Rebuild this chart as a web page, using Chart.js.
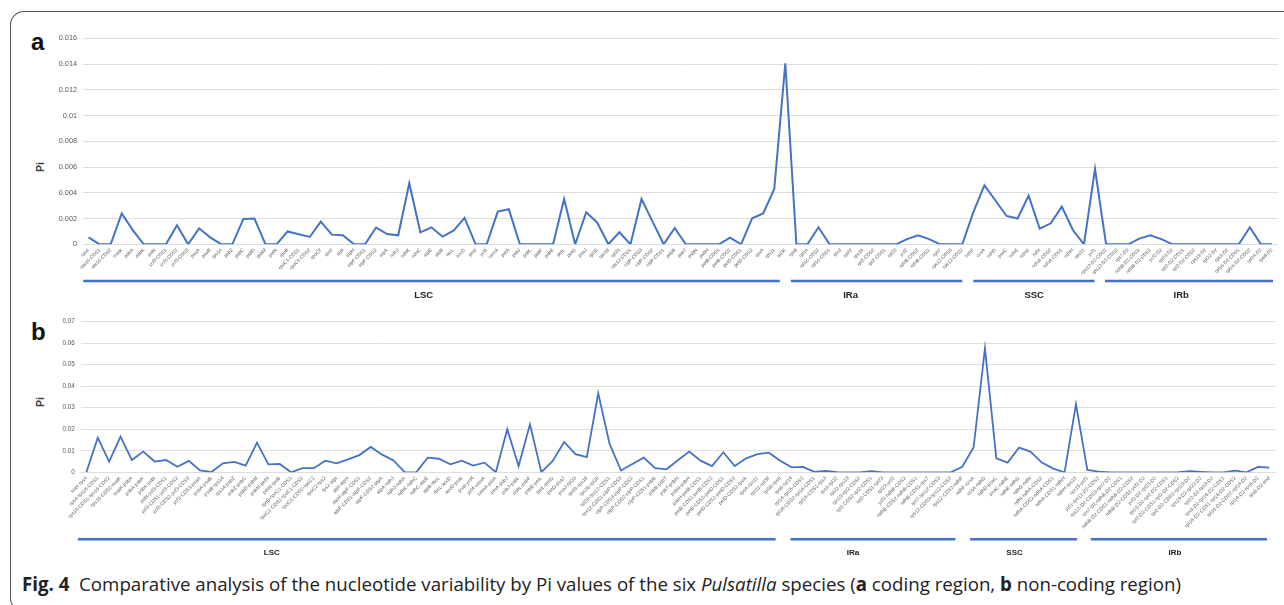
<!DOCTYPE html>
<html>
<head>
<meta charset="utf-8">
<script src="https://cdn.jsdelivr.net/npm/chart.js@4.4.1/dist/chart.umd.min.js"></script>
<style>
  html, body { margin: 0; padding: 0; background: #fff; }
  body { width: 1284px; height: 605px; position: relative; overflow: hidden; }
  .frame {
    position: absolute; left: 10px; top: 11px; width: 1320px; height: 598px;
    border: 1.5px solid #555; border-right: none;
    border-top-left-radius: 14px; border-bottom-left-radius: 10px;
    box-sizing: border-box;
  }
  canvas { position: absolute; left: 0; }
  #chartA { top: 0; }
  #chartB { top: 300px; }
  .panel {
    position: absolute; font-family: 'Liberation Sans', Arial, sans-serif;
    font-weight: bold; font-size: 24px; line-height: 24px; color: #111;
  }
  .pi {
    position: absolute; width: 30px; height: 12px; margin: -6px 0 0 -15px;
    transform: rotate(-90deg); text-align: center;
    font-family: 'Liberation Sans', Arial, sans-serif; font-weight: bold;
    font-size: 10.5px; line-height: 12px; color: #404040;
  }
  .caption {
    position: absolute; left: 22px; top: 573px; white-space: nowrap;
    font-family: 'Open Sans', sans-serif; font-size: 18.7px; line-height: 22px; color: #222;
  }
</style>
</head>
<body>
<div class="frame"></div>
<div class="panel" style="left:31px; top:30px;">a</div>
<div class="panel" style="left:31px; top:320px;">b</div>
<div class="pi" style="left:40px; top:167px;">Pi</div>
<div class="pi" style="left:40px; top:402px;">Pi</div>
<canvas id="chartA" width="1284" height="300"></canvas>
<canvas id="chartB" width="1284" height="265"></canvas>
<div class="caption"><b>Fig. 4</b>&nbsp; Comparative analysis of the nucleotide variability by Pi values of the six <i>Pulsatilla</i> species (<b>a</b> coding region, <b>b</b> non-coding region)</div>

<script>
/* ===================================================
   FIG. 4 – Pi values, coding / non-coding regions
   =================================================== */

// ── DATA: panel a (coding region) ─────────────────
const genesA = [
  'rps4', 'rps16-CDS1', 'rps16-CDS2', 'matK', 'psbA', 'psbK', 'psbI', 'ycf3-CDS1', 'ycf3-CDS2', 'ycf3-CDS3',
  'psaA', 'psaB', 'rps14', 'psbZ', 'psbC', 'psbD', 'psbM', 'petN', 'rpoB', 'rpoC1-CDS1',
  'rpoC1-CDS2', 'rpoC2', 'rps2', 'atpI', 'atpH', 'atpF-CDS1', 'atpF-CDS2', 'atpA', 'ndhJ', 'ndhK',
  'ndhC', 'atpE', 'atpB', 'rbcL', 'accD', 'psaI', 'ycf4', 'cemA', 'petA', 'psbJ',
  'psbL', 'psbF', 'psbE', 'petL', 'petG', 'psaJ', 'rpl33', 'rps18', 'rpl20', 'rps12-CDS1',
  'clpP-CDS3', 'clpP-CDS2', 'clpP-CDS1', 'psbB', 'psbT', 'psbN', 'psbH', 'petB-CDS1', 'petB-CDS2', 'petD-CDS1',
  'petD-CDS2', 'rpoA', 'rps11', 'rpl36', 'rps8', 'rpl14', 'rpl16-CDS2', 'rpl16-CDS1', 'rps3', 'rpl22',
  'rps19', 'rpl2-CDS2', 'rpl2-CDS1', 'rpl23', 'ycf2', 'ndhB-CDS2', 'ndhB-CDS1', 'rps7', 'rps12-CDS3', 'rps12-CDS2',
  'ndhF', 'ccsA', 'ndhD', 'psaC', 'ndhE', 'ndhG', 'ndhI', 'ndhA-CDS2', 'ndhA-CDS1', 'ndhH',
  'rps15', 'ycf1', 'rps12-D2-CDS2', 'rps12-D2-CDS3', 'rps7-D2', 'ndhB-D2-CDS1', 'ndhB-D2-CDS2', 'ycf2-D2', 'rpl23-D2', 'rpl2-D2-CDS1',
  'rpl2-D2-CDS2', 'rps19-D2', 'rpl22-D2', 'rps3-D2', 'rpl16-D2-CDS1', 'rpl16-D2-CDS2', 'rpl14-D2', 'rps8-D2',
];

const piA = [
  0.00054, 0, 0, 0.0024, 0.0011, 0, 0, 0, 0.00148, 0,
  0.00124, 0.00054, 0, 0, 0.00197, 0.0020, 0, 0, 0.0010, 0.00078,
  0.00057, 0.00176, 0.00075, 0.0007, 0, 0, 0.0013, 0.0008, 0.0007, 0.00474,
  0.00093, 0.00132, 0.0006, 0.00106, 0.00205, 0, 0, 0.00254, 0.00272, 0,
  0, 0, 0, 0.00352, 0, 0.00249, 0.00168, 0, 0.00093, 0,
  0.00352, 0.00176, 0, 0.00127, 0, 0, 0, 0, 0.00052, 0,
  0.00202, 0.0024, 0.0043, 0.01406, 0, 0, 0.00132, 0, 0, 0,
  0, 0, 0, 0, 0.0004, 0.0007, 0.0004, 0, 0, 0,
  0.0025, 0.00458, 0.0034, 0.0022, 0.0020, 0.00378, 0.00122, 0.00163, 0.00293, 0.00111,
  0, 0.00585, 0, 0, 0, 0.00044, 0.0007, 0.0004, 0, 0,
  0, 0, 0, 0, 0, 0.00132, 0, 0,
];

// ── DATA: panel b (non-coding region) ─────────────
const spacersB = [
  'start-rps4', 'rps4-rps16-CDS1', 'rps16-CDS1-rps16-CDS2', 'rps16-CDS2-matK', 'matK-psbA',
  'psbA-psbK', 'psbK-psbI', 'psbI-ycf3-CDS1', 'ycf3-CDS1-ycf3-CDS2', 'ycf3-CDS2-ycf3-CDS3',
  'ycf3-CDS3-psaA', 'psaA-psaB', 'psaB-rps14', 'rps14-psbZ', 'psbZ-psbC',
  'psbD-psbM', 'psbM-petN', 'petN-rpoB', 'rpoB-rpoC1-CDS1', 'rpoC1-CDS1-rpoC1-CDS2',
  'rpoC1-CDS2-rpoC2', 'rpoC2-rps2', 'rps2-atpI', 'atpI-atpH', 'atpH-atpF-CDS1',
  'atpF-CDS1-atpF-CDS2', 'atpF-CDS2-atpA', 'atpA-ndhJ', 'ndhJ-ndhK', 'ndhK-ndhC',
  'ndhC-atpE', 'atpB-rbcL', 'rbcL-accD', 'accD-psaI', 'psaI-ycf4',
  'ycf4-cemA', 'cemA-petA', 'petA-psbJ', 'psbJ-psbL', 'psbL-psbF',
  'psbE-petL', 'petL-petG', 'petG-psaJ', 'psaJ-rpl33', 'rpl33-rps18',
  'rps18-rpl20', 'rpl20-rps12-CDS1', 'rps12-CDS1-clpP-CDS3', 'clpP-CDS3-clpP-CDS2', 'clpP-CDS2-clpP-CDS1',
  'clpP-CDS1-psbB', 'psbB-psbT', 'psbT-psbN', 'psbN-psbH', 'psbH-petB-CDS1',
  'petB-CDS1-petB-CDS2', 'petB-CDS2-petD-CDS1', 'petD-CDS1-petD-CDS2', 'petD-CDS2-rpoA', 'rpoA-rps11',
  'rps11-rpl36', 'rpl36-rps8', 'rps8-rpl14', 'rpl14-rpl16-CDS2', 'rpl16-CDS2-rpl16-CDS1',
  'rpl16-CDS1-rps3', 'rps3-rpl22', 'rpl22-rps19', 'rps19-rpl2-CDS2', 'rpl2-CDS2-rpl2-CDS1',
  'rpl2-CDS1-rpl23', 'rpl23-ycf2', 'ycf2-ndhB-CDS2', 'ndhB-CDS2-ndhB-CDS1', 'ndhB-CDS1-rps7',
  'rps7-rps12-CDS3', 'rps12-CDS3-rps12-CDS2', 'rps12-CDS2-ndhF', 'ndhF-ccsA', 'ccsA-ndhD',
  'ndhD-psaC', 'psaC-ndhE', 'ndhE-ndhG', 'ndhG-ndhI', 'ndhI-ndhA-CDS2',
  'ndhA-CDS2-ndhA-CDS1', 'ndhA-CDS1-ndhH', 'ndhH-rps15', 'rps15-ycf1', 'ycf1-rps12-D2-CDS2',
  'rps12-D2-CDS3-rps7-D2', 'rps7-D2-ndhB-D2-CDS1', 'ndhB-D2-CDS1-ndhB-D2-CDS2', 'ndhB-D2-CDS2-ycf2-D2', 'ycf2-D2-rpl23-D2',
  'rpl23-D2-rpl2-D2-CDS1', 'rpl2-D2-CDS1-rpl2-D2-CDS2', 'rpl2-D2-CDS2-rps19-D2', 'rps19-D2-rpl22-D2', 'rpl22-D2-rps3-D2',
  'rps3-D2-rpl16-D2-CDS1', 'rpl16-D2-CDS1-rpl16-D2-CDS2', 'rpl16-D2-CDS2-rpl14-D2', 'rpl14-D2-rps8-D2', 'rps8-D2-end',
];

const piB = [
  0, 0.0161, 0.0050, 0.0166, 0.0057, 0.0096, 0.0050, 0.0057, 0.0026, 0.0053,
  0.0009, 0.0001, 0.0042, 0.0048, 0.0031, 0.0138, 0.0037, 0.0039, 0, 0.0019,
  0.0019, 0.0054, 0.0042, 0.0060, 0.0080, 0.0118, 0.0082, 0.0055, 0, 0,
  0.0068, 0.0063, 0.0037, 0.0054, 0.0031, 0.0045, 0, 0.0200, 0.0029, 0.0223,
  0.0001, 0.0053, 0.0141, 0.0084, 0.0071, 0.0367, 0.0132, 0.0008, 0.0039, 0.0068,
  0.0019, 0.0014, 0.0056, 0.0096, 0.0054, 0.0029, 0.0093, 0.0029, 0.0065, 0.0084,
  0.0091, 0.0054, 0.0023, 0.0025, 0.0002, 0.0006, 0.0001, 0, 0, 0.0005,
  0, 0, 0, 0, 0, 0, 0, 0.0026, 0.0115, 0.0576,
  0.0065, 0.0045, 0.0115, 0.0096, 0.0045, 0.0017, 0, 0.0317, 0.0011, 0.0003,
  0, 0, 0, 0, 0, 0, 0.0001, 0.0005, 0.0002, 0,
  0, 0.0008, 0, 0.0025, 0.0022,
];

// ── DATA: genome regions (category index spans) ───
const regionNames = ['LSC', 'IRa', 'SSC', 'IRb'];
const regionStartA = [-0.48, 63.5, 80.0, 91.9];
const regionEndA   = [62.5, 79.0, 90.96, 107.1];
const regionLabelA = [30.3, 68.9, 85.5, 98.8];
const regionStartB = [-0.75, 61.9, 77.7, 88.3];
const regionEndB   = [60.6, 76.4, 87.1, 103.8];
const regionLabelB = [16.3, 67.4, 81.6, 95.7];

// ── STYLE ─────────────────────────────────────────
const BLUE = '#4472C4';
const GRID = '#dddddd';
const TICK = '#595959';
const FONT = "'Liberation Sans', Arial, sans-serif";

Chart.defaults.font.family = FONT;
Chart.defaults.animation = false;

// ── REGION BARS PLUGIN ────────────────────────────
const regionPlugin = {
  id: 'regions',
  afterDraw(chart, args, o) {
    const ctx = chart.ctx;
    const x = chart.scales.x;
    ctx.save();
    ctx.strokeStyle = BLUE;
    ctx.lineWidth = o.lineWidth;
    ctx.fillStyle = '#222';
    ctx.font = `bold ${o.fontSize}px ${FONT}`;
    ctx.textAlign = 'center';
    ctx.textBaseline = 'middle';
    regionNames.forEach((name, i) => {
      ctx.beginPath();
      ctx.moveTo(x.getPixelForValue(o.starts[i]), o.barY);
      ctx.lineTo(x.getPixelForValue(o.ends[i]), o.barY);
      ctx.stroke();
      ctx.fillText(name, x.getPixelForValue(o.labels[i]), o.labelY);
    });
    ctx.restore();
  },
};

// ── CHART BUILDER ─────────────────────────────────
function makeChart(id, labels, values, cfg) {
  return new Chart(document.getElementById(id), {
    type: 'line',
    data: {
      labels,
      datasets: [{
        data: values,
        borderColor: BLUE,
        borderWidth: cfg.lineWidth,
        pointRadius: 0,
        tension: 0,
        fill: false,
      }],
    },
    options: {
      responsive: false,
      devicePixelRatio: 1,
      layout: { padding: { left: 0, right: cfg.padRight, top: cfg.padTop, bottom: 0 } },
      plugins: {
        legend: { display: false },
        tooltip: { enabled: false },
        regions: cfg.regions,
      },
      scales: {
        x: {
          type: 'category',
          offset: true,
          grid: { display: false, drawTicks: false },
          border: { display: true, color: GRID, width: 1 },
          ticks: {
            autoSkip: false,
            minRotation: 45,
            maxRotation: 45,
            padding: 3,
            color: TICK,
            font: { size: cfg.xFont },
          },
          afterFit: s => { s.height = cfg.xHeight; },
        },
        y: {
          min: 0,
          max: cfg.yMax,
          grid: { color: GRID, lineWidth: 1, drawTicks: false },
          border: { display: false },
          ticks: {
            stepSize: cfg.yStep,
            padding: 6,
            color: TICK,
            font: { size: cfg.yFont },
            callback: v => String(parseFloat(v.toFixed(4))),
          },
          afterFit: s => { s.width = cfg.yWidth; },
        },
      },
    },
    plugins: [regionPlugin],
  });
}

// ── BOOT ──────────────────────────────────────────
makeChart('chartA', genesA, piA, {
  lineWidth: 2,
  padTop: 38.3, padRight: 6.5,
  xHeight: 55.7, yWidth: 83,
  yMax: 0.016, yStep: 0.002,
  xFont: 4.8, yFont: 7.3,
  regions: {
    starts: regionStartA, ends: regionEndA, labels: regionLabelA,
    barY: 281, labelY: 295, lineWidth: 2.5, fontSize: 9.5,
  },
});

makeChart('chartB', spacersB, piB, {
  lineWidth: 1.8,
  padTop: 21.7, padRight: 9,
  xHeight: 92.7, yWidth: 80.7,
  yMax: 0.07, yStep: 0.01,
  xFont: 5, yFont: 6.3,
  regions: {
    starts: regionStartB, ends: regionEndB, labels: regionLabelB,
    barY: 239.3, labelY: 253, lineWidth: 2.5, fontSize: 8,
  },
});
</script>
</body>
</html>
